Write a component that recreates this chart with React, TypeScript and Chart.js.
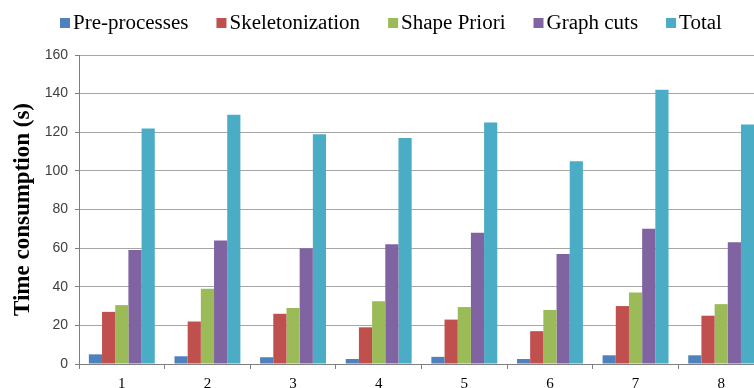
import React, { useEffect, useRef } from "react";
import { Chart, registerables } from "chart.js";

Chart.register(...registerables);

// Timing per test image (seconds)
const categories = ["1", "2", "3", "4", "5", "6", "7", "8"];
const preProcesses = [5, 4, 3.5, 2.6, 3.7, 2.6, 4.5, 4.5];
const skeletonization = [27, 22, 26, 19, 23, 17, 30, 25];
const shapePriori = [30.5, 39, 29, 32.5, 29.5, 28, 37, 31];
const graphCuts = [59, 64, 60, 62, 68, 57, 70, 63];
const total = [122, 129, 119, 117, 125, 105, 142, 124];

const seriesNames = ["Pre-processes", "Skeletonization", "Shape Priori", "Graph cuts", "Total"];
const seriesColors = ["#4F81BD", "#C0504D", "#9BBB59", "#8064A2", "#4BACC6"];
const yTicks = { min: 0, max: 160, step: 20 };

// Legend row drawn across the top of the canvas
const topKey = {
  id: "topKey",
  afterDraw(chart: any) {
    const ctx = chart.ctx as CanvasRenderingContext2D;
    const fontPx = 20;
    const stretch = 1.05;
    const box = 10;
    const boxGap = 3;
    const itemGap = 28;
    const y = 23;
    let x = 60;
    ctx.save();
    ctx.font = `${fontPx}px "Liberation Serif", "Times New Roman", serif`;
    ctx.textBaseline = "middle";
    ctx.textAlign = "left";
    chart.data.datasets.forEach((ds: any) => {
      ctx.fillStyle = ds.backgroundColor;
      ctx.fillRect(x, y - box / 2, box, box);
      x += box + boxGap;
      const w = ctx.measureText(ds.label).width * stretch;
      ctx.save();
      ctx.translate(x, y + 1);
      ctx.scale(stretch, 1);
      ctx.fillStyle = "#000";
      ctx.fillText(ds.label, 0, 0);
      ctx.restore();
      x += w + itemGap;
    });
    ctx.restore();
  },
};

export default function App() {
  const canvasRef = useRef<HTMLCanvasElement | null>(null);

  useEffect(() => {
    if (!canvasRef.current) return;
    const values = [preProcesses, skeletonization, shapePriori, graphCuts, total];
    const chart = new Chart(canvasRef.current, {
      type: "bar",
      data: {
        labels: categories,
        datasets: values.map((v, i) => ({
          label: seriesNames[i],
          data: v,
          backgroundColor: seriesColors[i],
          borderWidth: 0,
          categoryPercentage: 0.77,
          barPercentage: 1,
        })),
      },
      options: {
        responsive: false,
        animation: false,
        devicePixelRatio: 1,
        layout: { padding: { top: 55, left: 5, right: 0, bottom: 0 } },
        plugins: {
          legend: { display: false },
          tooltip: { enabled: false },
        },
        scales: {
          x: {
            offset: true,
            grid: {
              display: true,
              drawOnChartArea: false,
              drawTicks: true,
              tickLength: 5,
              color: "#7f7f7f",
              offset: true,
            },
            border: { display: true, color: "#7f7f7f", width: 1 },
            ticks: {
              color: "#000",
              padding: 6,
              font: { family: '"Liberation Serif", "Times New Roman", serif', size: 15 },
            },
            afterFit(scale: any) {
              scale.height = 24;
            },
          },
          y: {
            min: yTicks.min,
            max: yTicks.max,
            ticks: {
              stepSize: yTicks.step,
              color: "#404040",
              padding: 7,
              font: { family: '"Liberation Sans", Arial, sans-serif', size: 14 },
            },
            grid: {
              color: "#a6a6a6",
              lineWidth: 1,
              drawTicks: true,
              tickLength: 4,
              tickColor: "#7f7f7f",
            },
            border: { display: true, color: "#7f7f7f", width: 1 },
            title: {
              display: true,
              text: "Time consumption (s)",
              color: "#000",
              padding: { top: 4, bottom: 4 },
              font: {
                family: '"Liberation Serif", "Times New Roman", serif',
                size: 23,
                weight: "bold",
              },
            },
            afterFit(scale: any) {
              scale.width = 74;
            },
          },
        },
      },
      plugins: [topKey],
    });
    return () => chart.destroy();
  }, []);

  return (
    <div
      style={{
        position: "fixed",
        left: 0,
        top: 0,
        width: 754,
        height: 388,
        overflow: "hidden",
        background: "#fff",
      }}
    >
      <canvas ref={canvasRef} width={764} height={388} style={{ display: "block" }} />
    </div>
  );
}
